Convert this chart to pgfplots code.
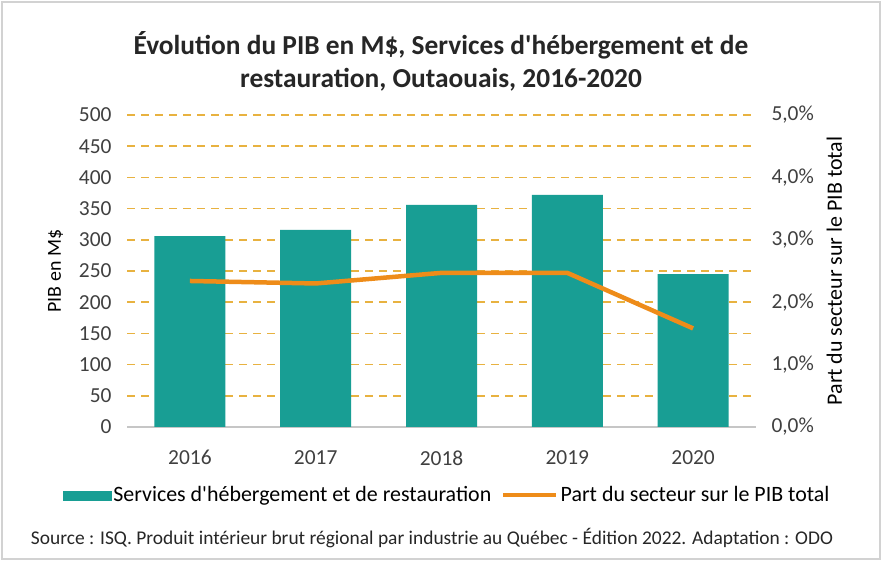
\documentclass[border=0pt]{standalone}
\usepackage{pgfplots}
\pgfplotsset{compat=1.18}
\usepackage{fontspec}
\setmainfont{Carlito}
\definecolor{teal1}{RGB}{24,158,148}
\definecolor{orng}{RGB}{238,140,25}
\definecolor{gridc}{RGB}{232,178,64}
\begin{document}
\begin{tikzpicture}[x=1bp,y=1bp]
\fill[white] (0,0) rectangle (882,561);
\draw[gray!35, line width=1.2bp] (2,2) rectangle (880,559);
\node[font=\fontsize{27.5}{33}\selectfont\bfseries, align=center, text=black!85] at (441,500) {Évolution du PIB en M\$, Services d\textquotesingle hébergement et de\\restauration, Outaouais, 2016-2020};
\begin{axis}[
  at={(189.9bp,134bp)}, anchor=origin,
  width=629bp, height=312bp, scale only axis,
  xmin=-0.5, xmax=4.5, ymin=0, ymax=500,
  xtick={0,1,2,3,4}, xticklabels={2016,2017,2018,2019,2020},
  ytick={0,50,...,500},
  axis x line*=bottom, axis y line*=left,
  y axis line style={draw=none},
  x axis line style={gray!45, line width=1.2bp, -},
  major tick length=0pt,
  ymajorgrids,
  grid style={gridc, line width=1.7bp, dash pattern=on 8bp off 6bp},
  tick label style={font=\fontsize{21.5}{24}\selectfont, text=black!75},
  /pgf/number format/assume math mode=true,
  yticklabel style={xshift=-12bp},
  xticklabel style={yshift=-20bp},
  ylabel={PIB en M\$},
  ylabel style={font=\fontsize{20}{22}\selectfont, text=black, yshift=9bp},
  clip=false,
]
\addplot[ybar, bar width=71bp, fill=teal1, draw=none] coordinates {(0,306) (1,316) (2,356) (3,372) (4,245)};
\end{axis}
\begin{axis}[
  at={(189.9bp,134bp)}, anchor=origin,
  width=629bp, height=312bp, scale only axis,
  xmin=-0.5, xmax=4.5, ymin=0, ymax=5,
  axis y line*=right, hide x axis,
  y axis line style={draw=none},
  major tick length=0pt,
  ytick={0,1,2,3,4,5},
  yticklabel={\pgfmathprintnumber[fixed, fixed zerofill, precision=1, use comma]{\tick}\%},
  tick label style={font=\fontsize{21.5}{24}\selectfont, text=black!75},
  /pgf/number format/assume math mode=true,
  yticklabel style={xshift=12bp},
  ylabel={Part du secteur sur le PIB total},
  ylabel style={font=\fontsize{22}{24}\selectfont, text=black, yshift=-6bp},
  legend columns=2,
  legend style={at={(0.509,-0.218)}, anchor=center, draw=none, fill=none,
    font=\fontsize{22}{24}\selectfont, /tikz/every even column/.append style={column sep=8bp}},
  legend image code/.code={},
]
\addlegendimage{legend image code/.code={\fill[teal1] (0bp,-5bp) rectangle (48bp,4bp);}}
\addlegendentry{Services d\textquotesingle hébergement et de restauration}
\addplot[orng, line width=4.5bp, legend image code/.code={\draw[orng, line width=4.5bp] (0bp,0bp) -- (53bp,0bp);}] coordinates {(0,2.34) (1,2.30) (2,2.47) (3,2.47) (4,1.58)};
\addlegendentry{Part du secteur sur le PIB total}
\end{axis}
\node[font=\fontsize{19.5}{22}\selectfont, text=black!85] at (432,23) {Source : ISQ. Produit intérieur brut régional par industrie au Québec - Édition 2022. Adaptation : ODO};
\end{tikzpicture}
\end{document}
